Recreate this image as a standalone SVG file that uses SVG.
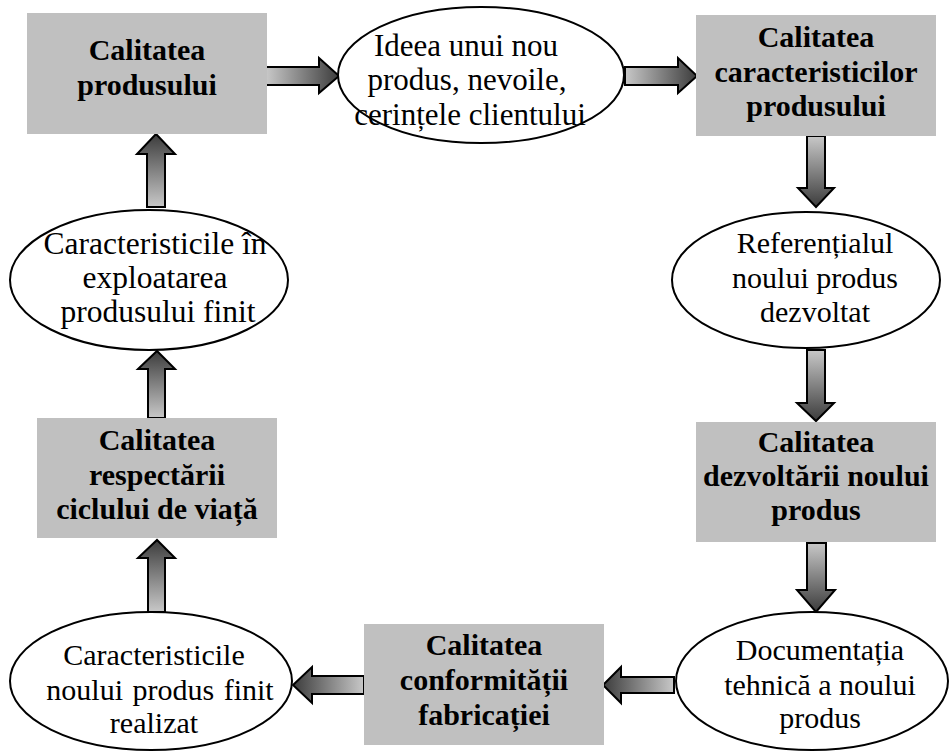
<svg xmlns="http://www.w3.org/2000/svg" width="950" height="751" viewBox="0 0 950 751">
<defs>
<linearGradient id="gR" x1="0" y1="0" x2="1" y2="0"><stop offset="0" stop-color="#c8c8c8"/><stop offset="1" stop-color="#3c3c3c"/></linearGradient>
<linearGradient id="gL" x1="1" y1="0" x2="0" y2="0"><stop offset="0" stop-color="#c8c8c8"/><stop offset="1" stop-color="#3c3c3c"/></linearGradient>
<linearGradient id="gD" x1="0" y1="0" x2="0" y2="1"><stop offset="0" stop-color="#c8c8c8"/><stop offset="1" stop-color="#3c3c3c"/></linearGradient>
<linearGradient id="gU" x1="0" y1="1" x2="0" y2="0"><stop offset="0" stop-color="#c8c8c8"/><stop offset="1" stop-color="#3c3c3c"/></linearGradient>
<style>
.box{fill:#c0c0c0;stroke:none}
.ell{fill:#fff;stroke:#000;stroke-width:2}
text{font-family:'Liberation Serif','Times New Roman','DejaVu Serif',serif;font-size:30px;text-anchor:middle;fill:#000}
.bt{font-weight:bold}
.big{font-size:31.5px}
.mid{font-size:31px}
.arr{stroke:#000;stroke-width:2;stroke-linejoin:miter}
</style>
</defs>
<rect width="950" height="751" fill="#fff"/>
<g id="connectors">
<path class="arr" fill="url(#gR)" d="M266,67 H319 V58 L339,76 L319,93 V85 H266 Z"/>
<path class="arr" fill="url(#gR)" d="M625,67 H678 V58 L697,76 L678,93 V85 H625 Z"/>
<path class="arr" fill="url(#gD)" d="M807,136 V188 H798 L816,207 L834,188 H825 V136 Z"/>
<path class="arr" fill="url(#gD)" d="M807,350 V403 H797 L816,421 L834,403 H825 V350 Z"/>
<path class="arr" fill="url(#gD)" d="M807,543 V590 H797 L816,612 L835,590 H826 V543 Z"/>
<path class="arr" fill="url(#gL)" d="M674,677 H621 V667 L603,685 L621,703 V693 H674 Z"/>
<path class="arr" fill="url(#gL)" d="M364,676 H312 V667 L293,685 L312,703 V694 H364 Z"/>
<path class="arr" fill="url(#gU)" d="M148,612 V558 H138 L157,540 L175,558 H165 V612 Z"/>
<path class="arr" fill="url(#gU)" d="M148,418 V369 H138 L157,351 L175,369 H165 V418 Z"/>
<path class="arr" fill="url(#gU)" d="M147,207 V154 H137 L156,134 L175,154 H165 V207 Z"/>
</g>
<g id="n1"><rect class="box" x="27" y="13" width="240" height="121"/>
<text class="bt" x="147" y="60">Calitatea</text><text class="bt" x="147" y="95">produsului</text></g>
<g id="n2"><ellipse class="ell" cx="481" cy="75" rx="143" ry="68"/>
<text class="mid" x="466" y="56">Ideea unui nou</text><text class="mid" x="467" y="90">produs, nevoile,</text><text class="mid" x="470" y="125">cerințele clientului</text></g>
<g id="n3"><rect class="box" x="696" y="15" width="240" height="121"/>
<text class="bt" x="816" y="47">Calitatea</text><text class="bt" x="816" y="82">caracteristicilor</text><text class="bt" x="816" y="116">produsului</text></g>
<g id="n4"><ellipse class="ell" cx="806" cy="280" rx="134" ry="68"/>
<text x="815" y="253">Referențialul</text><text x="815" y="288">noului produs</text><text x="815" y="322">dezvoltat</text></g>
<g id="n5"><rect class="box" x="696" y="422" width="240" height="120"/>
<text class="bt" x="816" y="452">Calitatea</text><text class="bt" x="816" y="486">dezvoltării noului</text><text class="bt" x="816" y="520">produs</text></g>
<g id="n6"><ellipse class="ell" cx="812" cy="681" rx="136" ry="69"/>
<text x="820" y="660">Documentația</text><text x="820" y="695">tehnică a noului</text><text x="820" y="728">produs</text></g>
<g id="n7"><rect class="box" x="364" y="624" width="240" height="121"/>
<text class="bt" x="484" y="655">Calitatea</text><text class="bt" x="484" y="690">conformității</text><text class="bt" x="484" y="725">fabricației</text></g>
<g id="n8"><ellipse class="ell" cx="151" cy="681" rx="141" ry="69"/>
<text x="154" y="665">Caracteristicile</text><text x="160" y="700" word-spacing="2">noului produs finit</text><text x="154" y="733">realizat</text></g>
<g id="n9"><rect class="box" x="37" y="418" width="240" height="120"/>
<text class="bt" x="157" y="450">Calitatea</text><text class="bt" x="157" y="485">respectării</text><text class="bt" x="157" y="519">ciclului de viață</text></g>
<g id="n10"><ellipse class="ell" cx="149" cy="280" rx="139" ry="70"/>
<text class="big" x="155" y="254">Caracteristicile în</text><text class="big" x="155" y="288">exploatarea</text><text class="big" x="158" y="322">produsului finit</text></g>
</svg>
